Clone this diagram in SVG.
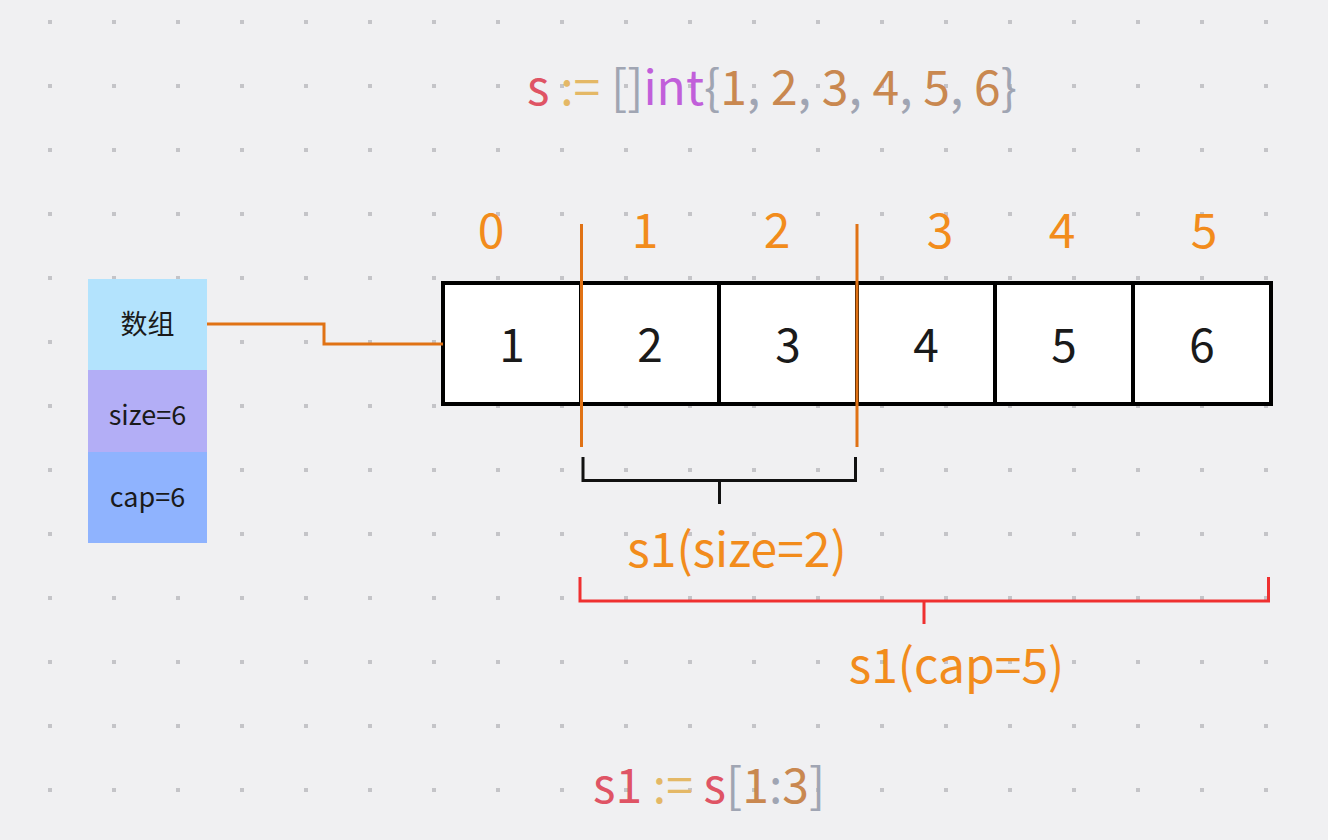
<svg xmlns="http://www.w3.org/2000/svg" width="1328" height="840" viewBox="0 0 1328 840">
<defs>
<pattern id="dots" x="0" y="0" width="64" height="64" patternUnits="userSpaceOnUse">
<rect x="48" y="20" width="4" height="4" fill="#c4c4c8"/>
</pattern>
<style>
.t{font-family:"Noto Sans CJK SC","Noto Sans",sans-serif;}
.code{font-size:48px;}
.idx{font-size:48px;fill:#f28c1c;text-anchor:middle;}
.cellt{font-size:46px;fill:#1a1a1a;text-anchor:middle;}
.cell{fill:#ffffff;stroke:#000000;stroke-width:4;}
.lbl{font-size:27px;fill:#1a1a1a;text-anchor:middle;}
.olbl{font-size:48px;fill:#f28c1c;text-anchor:middle;}
.red{fill:#df5465;}
.yel{fill:#e4b866;}
.gry{fill:#a0a5b3;}
.pur{fill:#c15fda;}
.num{fill:#c98850;}
</style>
</defs>
<rect width="1328" height="840" fill="#f0f0f2"/>
<rect width="1328" height="840" fill="url(#dots)"/>

<g id="title">
<text class="t code" x="527" y="105" xml:space="preserve"><tspan class="red">s</tspan><tspan class="yel"> :=</tspan><tspan class="gry"> []</tspan><tspan class="pur">int</tspan><tspan class="gry">{</tspan><tspan class="num">1</tspan><tspan class="gry">, </tspan><tspan class="num">2</tspan><tspan class="gry">, </tspan><tspan class="num">3</tspan><tspan class="gry">, </tspan><tspan class="num">4</tspan><tspan class="gry">, </tspan><tspan class="num">5</tspan><tspan class="gry">, </tspan><tspan class="num">6</tspan><tspan class="gry">}</tspan></text>
</g>

<g id="slice-header">
<rect x="88" y="279" width="119" height="91" fill="#b3e3fd"/>
<rect x="88" y="370" width="119" height="82" fill="#b3aef6"/>
<rect x="88" y="452" width="119" height="91" fill="#8fb3fe"/>
<text class="t lbl" x="147.500" y="334">数组</text>
<text class="t lbl" x="147.500" y="425">size=6</text>
<text class="t lbl" x="147.500" y="507">cap=6</text>
</g>

<g id="indices">
<text class="t idx" x="491" y="248">0</text>
<text class="t idx" x="645" y="248">1</text>
<text class="t idx" x="777" y="248">2</text>
<text class="t idx" x="940" y="248">3</text>
<text class="t idx" x="1062" y="248">4</text>
<text class="t idx" x="1204" y="248">5</text>
</g>

<g id="array">
<rect class="cell" x="443" y="283" width="138" height="121"/>
<rect class="cell" x="581" y="283" width="138" height="121"/>
<rect class="cell" x="719" y="283" width="138" height="121"/>
<rect class="cell" x="857" y="283" width="138" height="121"/>
<rect class="cell" x="995" y="283" width="138" height="121"/>
<rect class="cell" x="1133" y="283" width="138" height="121"/>
<text class="t cellt" x="512" y="362">1</text>
<text class="t cellt" x="650" y="362">2</text>
<text class="t cellt" x="788" y="362">3</text>
<text class="t cellt" x="926" y="362">4</text>
<text class="t cellt" x="1064" y="362">5</text>
<text class="t cellt" x="1202" y="362">6</text>
</g>

<g id="connectors" fill="none">
<polyline points="207,324 324,324 324,344 443,344" stroke="#e07215" stroke-width="3"/>
<line x1="581.500" y1="224" x2="581.500" y2="447" stroke="#e07215" stroke-width="3"/>
<line x1="857" y1="224" x2="857" y2="447" stroke="#e07215" stroke-width="3"/>
<polyline points="583,457 583,480.500 855.500,480.500 855.500,457" stroke="#111111" stroke-width="3"/>
<line x1="719.500" y1="480" x2="719.500" y2="504" stroke="#111111" stroke-width="3"/>
<polyline points="580,577 580,601 1268.500,601 1268.500,577" stroke="#ef3030" stroke-width="3"/>
<line x1="924" y1="601" x2="924" y2="624" stroke="#ef3030" stroke-width="3"/>
</g>

<g id="labels">
<text class="t olbl" x="737" y="567">s1(size=2)</text>
<text class="t olbl" x="956.500" y="683">s1(cap=5)</text>
</g>

<g id="footer">
<text class="t code" x="593" y="803" xml:space="preserve"><tspan class="red">s1</tspan><tspan class="yel"> :=</tspan><tspan class="red"> s</tspan><tspan class="gry">[</tspan><tspan class="num">1</tspan><tspan class="gry">:</tspan><tspan class="num">3</tspan><tspan class="gry">]</tspan></text>
</g>
</svg>
